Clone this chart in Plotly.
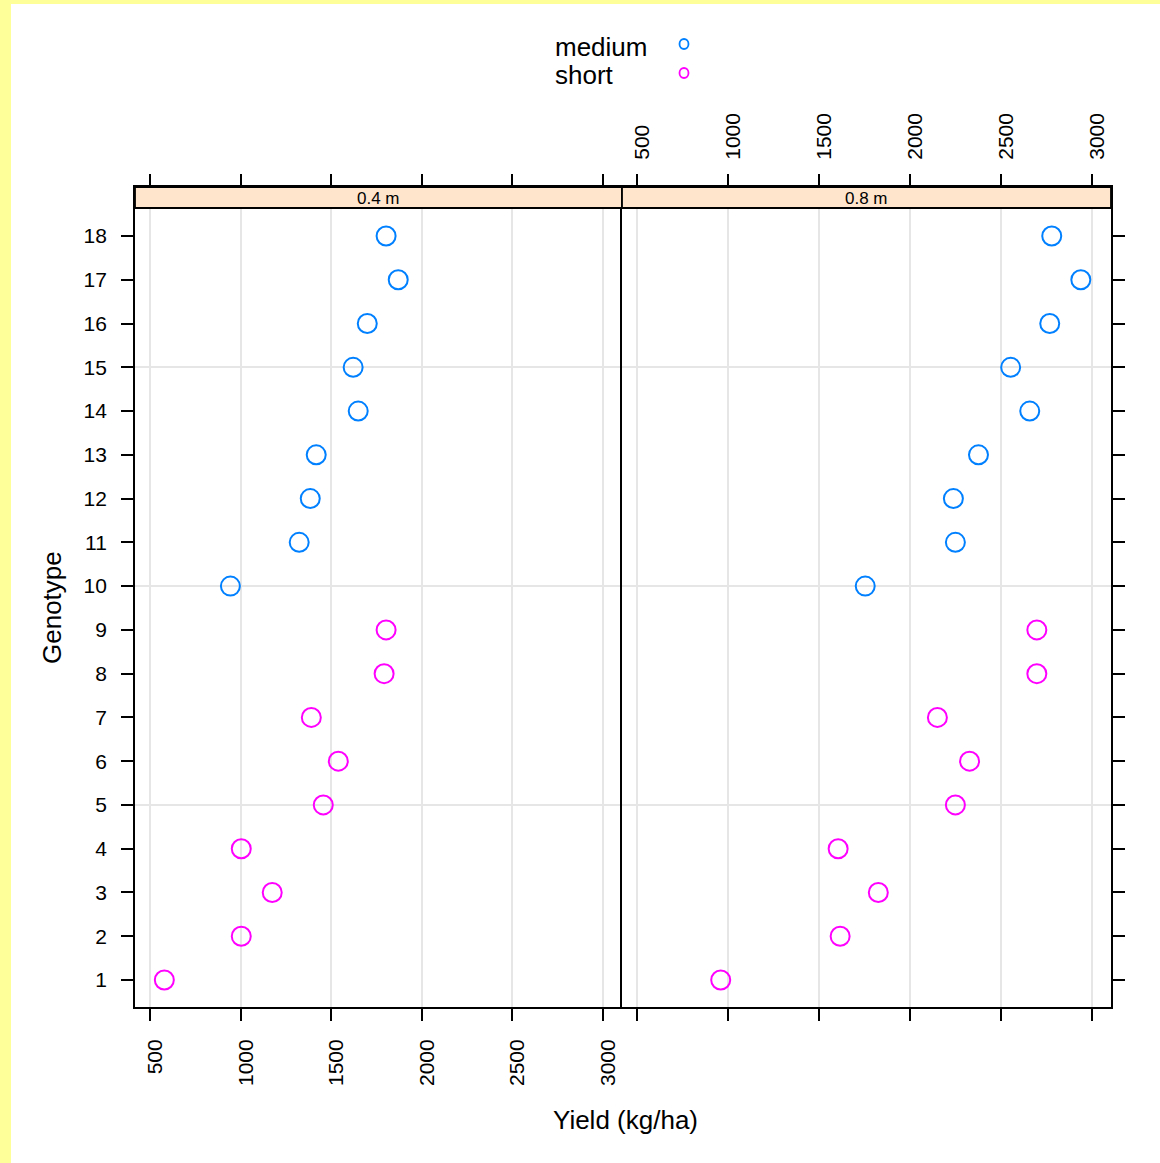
import plotly.graph_objects as go

genotypes = list(range(1, 19))
maturity = ["short"] * 9 + ["medium"] * 9
yield_04 = [577, 1002, 1173, 1002, 1455, 1538, 1389, 1791, 1802,
            942, 1322, 1383, 1416, 1648, 1620, 1698, 1869, 1802]
yield_08 = [958, 1615, 1825, 1604, 2249, 2327, 2150, 2697, 2697,
            1753, 2249, 2238, 2376, 2658, 2553, 2768, 2939, 2779]
panels = ["0.4 m", "0.8 m"]
groups = ["medium", "short"]
colors = {"medium": "#0080FF", "short": "#FF00FF"}
xticks = [500, 1000, 1500, 2000, 2500, 3000]

FONT = "Liberation Sans, Arial, Helvetica, sans-serif"
W, H = 1160, 1163
L, R, T, B = 135, 1111, 187, 1007
pw = R - L
ph = B - T
split = (622 - L) / pw
xr = [415, 3105]
yr = [0.383, 19.12]

def px(x):
    return (x - L) / pw

def py(y):
    return (B - y) / ph

fig = go.Figure()

for pi, data in enumerate([yield_04, yield_08]):
    xa = "x" if pi == 0 else "x2"
    ya = "y" if pi == 0 else "y2"
    for g in groups:
        xs = [v for v, m in zip(data, maturity) if m == g]
        ys = [gt for gt, m in zip(genotypes, maturity) if m == g]
        fig.add_trace(go.Scatter(
            x=xs, y=ys, mode="markers", xaxis=xa, yaxis=ya, showlegend=False,
            marker=dict(symbol="circle-open", size=19, color=colors[g],
                        line=dict(width=2, color=colors[g])),
        ))

# empty traces so the top (overlaying) axes get drawn
fig.add_trace(go.Scatter(x=[], y=[], xaxis="x3", yaxis="y", showlegend=False,
                         hoverinfo="skip"))
fig.add_trace(go.Scatter(x=[], y=[], xaxis="x4", yaxis="y2", showlegend=False,
                         hoverinfo="skip"))

grid = "#E6E6E6"
common_x = dict(range=xr, tickmode="array", tickvals=xticks, ticks="outside",
                ticklen=12, tickwidth=1.5, tickcolor="black", zeroline=False,
                tickangle=-90, tickfont=dict(family=FONT, size=21, color="black"))

fig.update_layout(
    width=W, height=H,
    margin=dict(l=L, r=W - R, t=T, b=H - B),
    paper_bgcolor="white", plot_bgcolor="white",
    font=dict(family=FONT, color="black"),
    xaxis=dict(domain=[0, split], anchor="y", side="bottom", showgrid=True,
               gridcolor=grid, gridwidth=1.5, showline=True, linecolor="black",
               linewidth=1.8, mirror=True, ticklabelstandoff=10, ticklabelshift=5,
               **common_x),
    xaxis2=dict(domain=[split, 1], anchor="y2", side="bottom", showgrid=True,
                gridcolor=grid, gridwidth=1.5, showline=True, linecolor="black",
                linewidth=1.8, mirror=True, showticklabels=False, **common_x),
    xaxis3=dict(overlaying="x", anchor="y", side="top", showgrid=False,
                showticklabels=False, **common_x),
    xaxis4=dict(overlaying="x2", anchor="y2", side="top", showgrid=False,
                showticklabels=True, ticklabelstandoff=10, ticklabelshift=5,
                **common_x),
    yaxis=dict(domain=[0, 1], anchor="x", side="left", range=yr, tickmode="array",
               tickvals=genotypes, ticks="outside", ticklen=12, tickwidth=1.5,
               tickcolor="black", showgrid=False, zeroline=False, showline=True,
               linecolor="black", linewidth=1.8, mirror=False, ticklabelstandoff=10,
               tickfont=dict(family=FONT, size=21, color="black"),
               minor=dict(tickmode="array", tickvals=[5, 10, 15], showgrid=True,
                          gridcolor=grid, gridwidth=1.5, ticks="")),
    yaxis2=dict(domain=[0, 1], anchor="x2", side="right", range=yr, tickmode="array",
                tickvals=genotypes, ticks="outside", ticklen=12, tickwidth=1.5,
                tickcolor="black", showgrid=False, zeroline=False, showline=True,
                linecolor="black", linewidth=1.8, mirror=True, showticklabels=False,
                minor=dict(tickmode="array", tickvals=[5, 10, 15], showgrid=True,
                           gridcolor=grid, gridwidth=1.5, ticks="")),
)

shapes = []
# yellow page border (left and top)
shapes.append(dict(type="rect", xref="paper", yref="paper", x0=px(0), x1=px(11),
                   y0=py(H), y1=py(0), fillcolor="#FFFF99", line=dict(width=0),
                   layer="above"))
shapes.append(dict(type="rect", xref="paper", yref="paper", x0=px(0), x1=px(W),
                   y0=py(4), y1=py(0), fillcolor="#FFFF99", line=dict(width=0),
                   layer="above"))
# strips
strip_bottom = py(208)
for x0, x1 in [(0, split), (split, 1)]:
    shapes.append(dict(type="rect", xref="paper", yref="paper", x0=x0, x1=x1,
                       y0=strip_bottom, y1=1, fillcolor="#FFE5CC",
                       line=dict(color="black", width=1.8), layer="above"))
# legend symbols
for g, cy in zip(groups, [44, 73]):
    shapes.append(dict(type="circle", xref="paper", yref="paper",
                       x0=px(679.5), x1=px(688.5), y0=py(cy + 5), y1=py(cy - 5),
                       line=dict(color=colors[g], width=1.8)))
fig.update_layout(shapes=shapes)

ann = []
for (x0, x1), name in zip([(0, split), (split, 1)], panels):
    ann.append(dict(text=name, xref="paper", yref="paper", x=(x0 + x1) / 2,
                    y=(strip_bottom + 1) / 2, showarrow=False, yshift=-1,
                    xanchor="center", yanchor="middle",
                    font=dict(family=FONT, size=17, color="black")))
for g, cy in zip(groups, [47, 75]):
    ann.append(dict(text=g, xref="paper", yref="paper", x=px(553), y=py(cy),
                    xanchor="left", yanchor="middle", showarrow=False,
                    font=dict(family=FONT, size=26, color="black")))
ann.append(dict(text="Yield (kg/ha)", xref="paper", yref="paper", x=px(625),
                y=py(1120), xanchor="center", yanchor="middle", showarrow=False,
                font=dict(family=FONT, size=26, color="black")))
ann.append(dict(text="Genotype", xref="paper", yref="paper", x=px(52),
                y=py(608), xanchor="center", yanchor="middle", showarrow=False,
                textangle=-90, font=dict(family=FONT, size=26, color="black")))
fig.update_layout(annotations=ann)

fig.write_html("out.html", config={"displayModeBar": False},
               post_script="document.body.style.margin='0';")
